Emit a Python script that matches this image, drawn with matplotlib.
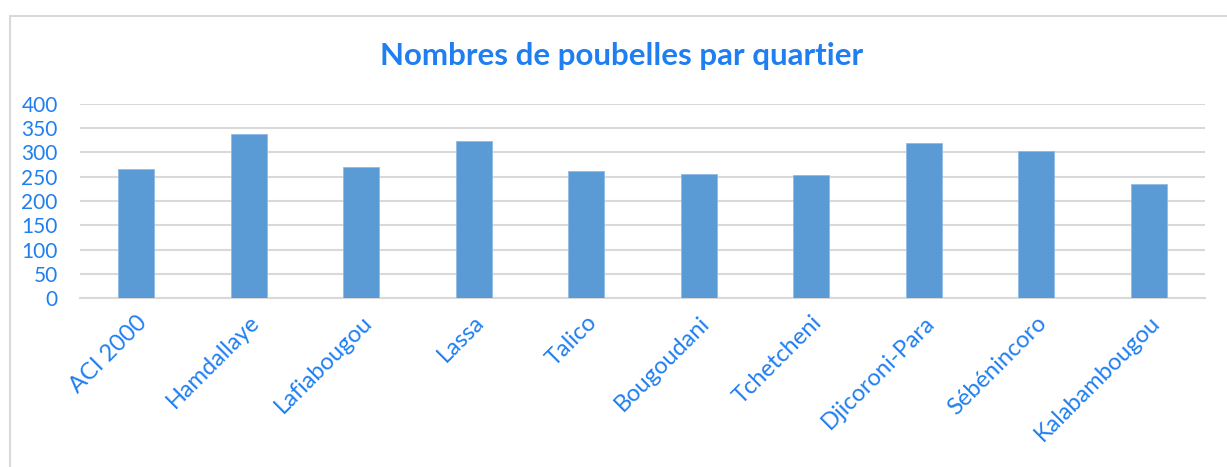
import matplotlib
matplotlib.use("Agg")
import matplotlib.pyplot as plt
from matplotlib.patches import Rectangle

# data
quartiers = ["ACI 2000", "Hamdallaye", "Lafiabougou", "Lassa", "Talico",
             "Bougoudani", "Tchetcheni", "Djicoroni-Para", "Sébénincoro",
             "Kalabambougou"]
poubelles = [266, 338, 270, 324, 262, 256, 254, 320, 303, 235]
y_ticks = [0, 50, 100, 150, 200, 250, 300, 350, 400]

text_blue = "#1f7ff0"
bar_blue = "#5b9bd5"
grid_grey = "#d9d9d9"

plt.rcParams['font.family'] = ['Lato', 'DejaVu Sans']

fig = plt.figure(figsize=(12.27, 4.67), dpi=100)
ax = fig.add_axes([80 / 1227, 1 - 298 / 467, 1125 / 1227, 194 / 467])

x = list(range(len(quartiers)))
ax.bar(x, poubelles, width=0.32, color=bar_blue, edgecolor="#8fbbe6", linewidth=0.6, zorder=3)

ax.set_xlim(-0.5, len(quartiers) - 0.5)
ax.set_ylim(0, 400)
ax.set_yticks(y_ticks)
ax.set_yticklabels([str(v) for v in y_ticks], color=text_blue, fontsize=15)
ax.set_xticks(x)
ax.set_xticklabels(quartiers, rotation=45, ha="right", rotation_mode="anchor",
                   color=text_blue, fontsize=17)
ax.tick_params(axis="both", length=0)
ax.tick_params(axis="y", pad=16)
ax.tick_params(axis="x", pad=10)

ax.grid(axis="y", color=grid_grey, linewidth=1.5, zorder=0)
for s in ["top", "right", "left"]:
    ax.spines[s].set_visible(False)
ax.spines["bottom"].set_color(grid_grey)
ax.spines["bottom"].set_linewidth(1.5)

fig.text(622 / 1227, 1 - 56 / 467, "Nombres de poubelles par quartier",
         ha="center", va="center", color=text_blue, fontsize=22.5, fontweight="bold")

# chart frame like the spreadsheet border
fig.patches.append(Rectangle((10 / 1227, -0.1), 1.2, 1 - 16 / 467 + 0.1,
                             transform=fig.transFigure, fill=False,
                             edgecolor="#d9d9d9", linewidth=1.5))

fig.savefig("out.png", dpi=100, facecolor="white")
